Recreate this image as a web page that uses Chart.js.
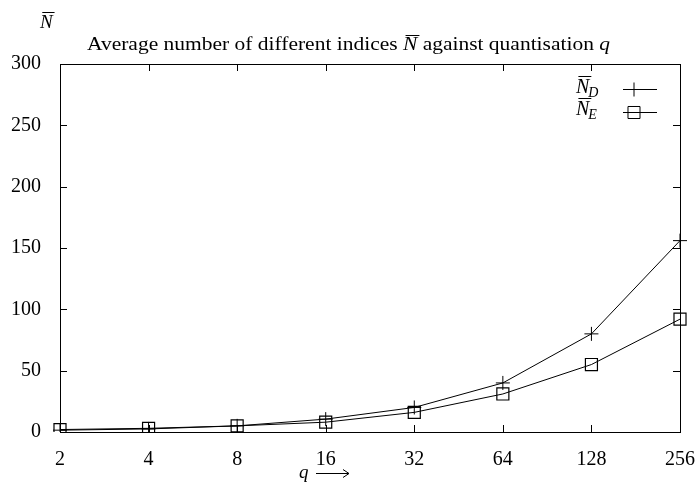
<!DOCTYPE html>
<html>
<head>
<meta charset="utf-8">
<script src="https://cdn.jsdelivr.net/npm/chart.js@4"></script>
<style>
  html, body { margin: 0; padding: 0; background: #fff; }
  #wrap { width: 695px; height: 485px; position: relative; }
</style>
</head>
<body>
<div id="wrap"><canvas id="chart"></canvas></div>
<script>
// Data
const qLabels = ["2", "4", "8", "16", "32", "64", "128", "256"];
const nD = [1.5, 2.5, 5, 10.5, 20, 40, 80, 156];
const nE = [2, 3, 5, 8, 16, 31, 55, 92];
const yTicks = [0, 50, 100, 150, 200, 250, 300];

const FONT = '"Liberation Serif", "DejaVu Serif", serif';

// Draw "N" with overline (and optional subscript), returns end x
function drawNBar(ctx, x, y, size, sub) {
    ctx.font = `italic ${size}px ${FONT}`;
    ctx.textAlign = "left";
    ctx.textBaseline = "alphabetic";
    const w = ctx.measureText("N").width;
    ctx.fillText("N", x, y);
    ctx.beginPath();
    ctx.lineWidth = 1;
    const oy = Math.round(y - size * 0.85) + 0.5;
    ctx.moveTo(x + size * 0.12, oy);
    ctx.lineTo(x + w + size * 0.1, oy);
    ctx.stroke();
    let end = x + w;
    if (sub) {
        ctx.font = `italic ${Math.round(size * 0.7)}px ${FONT}`;
        ctx.fillText(sub, end - 1, y + size * 0.18);
        end += ctx.measureText(sub).width;
    }
    return end;
}

const framePlugin = {
    id: "frame",
    afterDraw(c) {
        const ctx = c.ctx;
        const a = c.chartArea;
        const xs = c.scales.x, ys = c.scales.y;
        ctx.save();
        ctx.strokeStyle = "#000";
        ctx.fillStyle = "#000";
        ctx.lineWidth = 1;
        // Frame
        ctx.strokeRect(Math.round(a.left) + 0.5, Math.round(a.top) + 0.5,
            Math.round(a.right - a.left), Math.round(a.bottom - a.top));
        // Inward ticks
        const tl = 7;
        ctx.beginPath();
        qLabels.forEach((_, i) => {
            const px = Math.round(xs.getPixelForValue(i)) + 0.5;
            ctx.moveTo(px, a.bottom); ctx.lineTo(px, a.bottom - tl);
            ctx.moveTo(px, a.top); ctx.lineTo(px, a.top + tl);
        });
        yTicks.forEach((v) => {
            const py = Math.round(ys.getPixelForValue(v)) + 0.5;
            ctx.moveTo(a.left, py); ctx.lineTo(a.left + tl, py);
            ctx.moveTo(a.right, py); ctx.lineTo(a.right - tl, py);
        });
        ctx.stroke();

        // Y axis label
        drawNBar(ctx, 40, 28, 19);

        // Title, stretched to the width it has in the reference
        const ts = 18;
        const t1 = "Average number of different indices ";
        const t2 = " against quantisation ";
        ctx.font = `${ts}px ${FONT}`;
        let w = ctx.measureText(t1).width + ctx.measureText(t2).width;
        ctx.font = `italic ${ts}px ${FONT}`;
        w += ctx.measureText("N").width + ctx.measureText("q").width;
        const sx = 523 / w;
        ctx.save();
        ctx.translate(87, 0);
        ctx.scale(sx, 1);
        let x = 0;
        const ty = 50;
        ctx.font = `${ts}px ${FONT}`;
        ctx.fillText(t1, x, ty);
        x += ctx.measureText(t1).width;
        x = drawNBar(ctx, x, ty, ts);
        ctx.font = `${ts}px ${FONT}`;
        ctx.fillText(t2, x, ty);
        x += ctx.measureText(t2).width;
        ctx.font = `italic ${ts}px ${FONT}`;
        ctx.fillText("q", x, ty);
        ctx.restore();

        // X axis label
        ctx.font = `italic 19px ${FONT}`;
        ctx.fillText("q", 299, 478);
        ctx.beginPath();
        ctx.moveTo(316, 473.5); ctx.lineTo(349, 473.5);
        ctx.moveTo(343, 469.5); ctx.lineTo(349, 473.5); ctx.lineTo(343, 477.5);
        ctx.stroke();

        // Legend
        const entries = [
            { sub: "D", y: 93, ly: 89.5 },
            { sub: "E", y: 115, ly: 112.5 },
        ];
        entries.forEach((e, i) => {
            ctx.fillStyle = "#000";
            drawNBar(ctx, 576, e.y, 20, e.sub);
            ctx.beginPath();
            ctx.moveTo(623, e.ly); ctx.lineTo(657, e.ly);
            ctx.stroke();
            const ds = c.data.datasets[i];
            ctx.fillStyle = "rgba(0,0,0,0)";
            Chart.helpers.drawPoint(ctx, {
                pointStyle: ds.pointStyle, radius: ds.pointRadius,
                borderWidth: 1, rotation: 0,
            }, 634, e.ly);
        });
        ctx.restore();
    },
};

new Chart(document.getElementById("chart"), {
    type: "line",
    data: {
        labels: qLabels,
        datasets: [
            {
                label: "N_D",
                data: nD,
                borderColor: "#000",
                backgroundColor: "transparent",
                borderWidth: 1,
                pointStyle: "cross",
                pointRadius: 7,
                pointBorderColor: "#000",
                pointBorderWidth: 1,
                tension: 0,
            },
            {
                label: "N_E",
                data: nE,
                borderColor: "#000",
                backgroundColor: "transparent",
                borderWidth: 1,
                pointStyle: "rect",
                pointRadius: 8.5,
                pointBorderColor: "#000",
                pointBackgroundColor: "transparent",
                pointBorderWidth: 1.2,
                tension: 0,
            },
        ],
    },
    options: {
        responsive: true,
        maintainAspectRatio: false,
        animation: false,
        layout: { padding: { left: 0, top: 64, right: 0, bottom: 0 } },
        plugins: { legend: { display: false }, title: { display: false }, tooltip: { enabled: false } },
        scales: {
            x: {
                type: "category",
                offset: false,
                grid: { display: false },
                border: { display: false },
                ticks: { color: "#000", font: { family: FONT, size: 20 }, padding: 8, maxRotation: 0 },
                afterFit: (s) => {
                    s.height = 53;
                    s.paddingLeft = 0;
                    s.paddingRight = 15;
                },
            },
            y: {
                min: 0,
                max: 300,
                grid: { display: false },
                border: { display: false },
                ticks: { stepSize: 50, color: "#000", font: { family: FONT, size: 20 }, padding: 11 },
                afterFit: (s) => {
                    s.width = 60;
                    s.paddingTop = 0;
                    s.paddingBottom = 0;
                },
            },
        },
    },
    plugins: [framePlugin],
});
</script>
</body>
</html>
